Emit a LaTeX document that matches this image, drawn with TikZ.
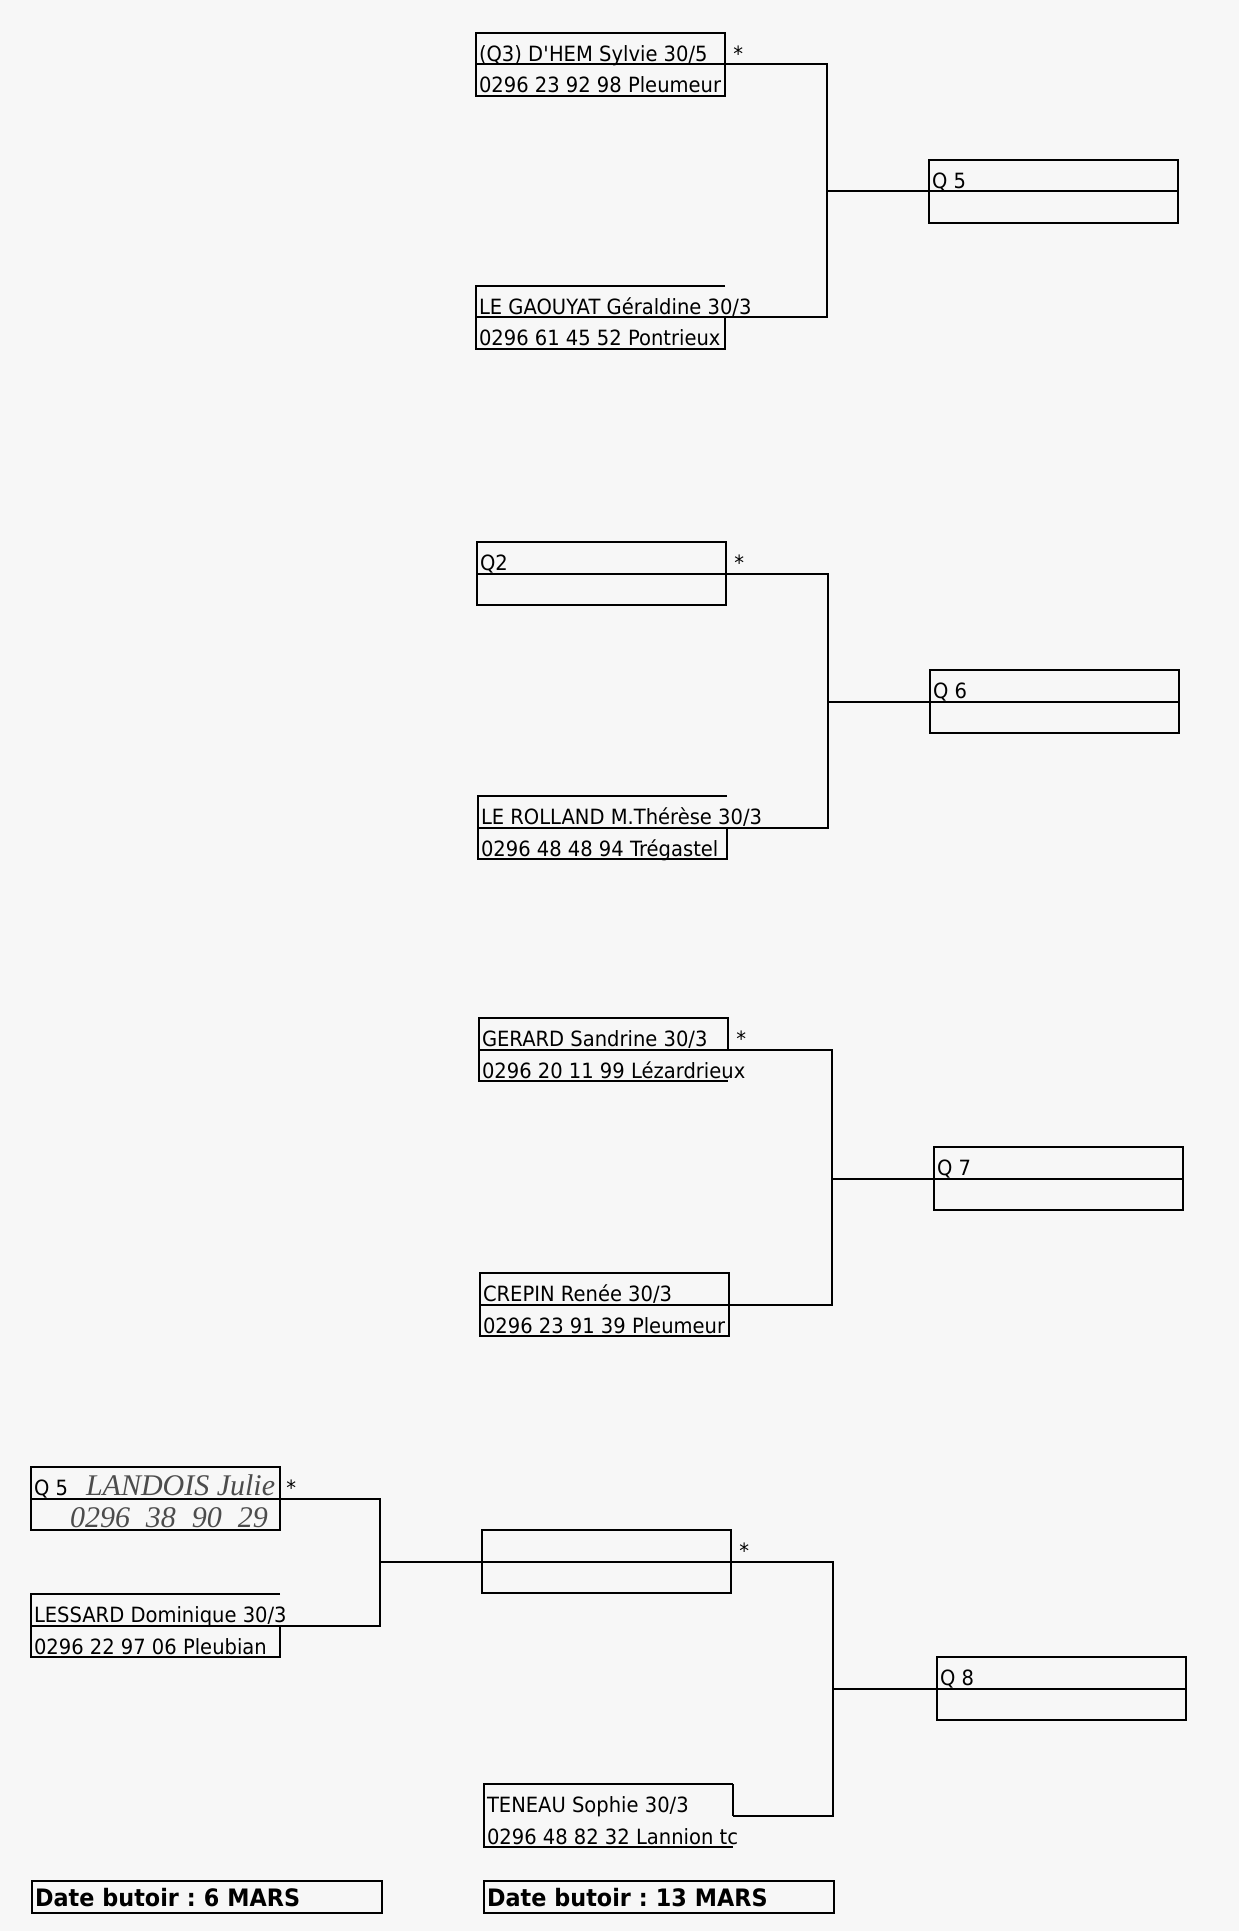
\documentclass[tikz,border=0pt]{standalone}
\usepackage{fontspec}
\setmainfont{DejaVu Sans}[FakeStretch=0.93]
\newfontfamily\handfont{Liberation Serif}
\usetikzlibrary{positioning}

\newcommand{\celltext}[1]{\makebox[121.5pt][l]{#1}}
\newcommand{\hand}[1]{{\handfont\itshape\fontsize{15}{16}\selectfont\color{black!70}#1}}

\tikzset{
  cell/.style={rectangle, draw, line width=1pt, minimum width=124.5pt,
    minimum height=15.75pt, inner xsep=1.5pt, inner ysep=0pt, outer sep=0pt,
    text height=14.25pt, text depth=1.5pt, anchor=north west,
    font=\fontsize{10.5}{12}\selectfont},
  opencell/.style={cell, draw=none},
  seedmark/.style={anchor=base west, inner sep=0pt, font=\fontsize{10.5}{12}\selectfont},
  link/.style={draw, line width=1pt},
  datebox/.style={cell, minimum width=175pt, minimum height=16pt,
    text width=172pt, align=left, text height=12.8pt, text depth=3.2pt,
    font=\fontsize{12}{14}\selectfont\bfseries}
}

\begin{document}
\frenchspacing
\begin{tikzpicture}[x=0.5pt, y=-0.5pt]
  \useasboundingbox[fill=black!3] (0,0) rectangle (1239,1931);

  \begin{scope}[every node/.style={cell}]
    % match 1
    \node (a1)  at (476,33) {\celltext{(Q3) D\textquotesingle{}HEM Sylvie 30/5}};
    \node (a1t) [below=0pt of a1] {\celltext{0296 23 92 98 Pleumeur}};
    \node[opencell] (b1) at (476,286) {\celltext{LE GAOUYAT Géraldine 30/3}};
    \node (b1t) [below=0pt of b1] {\celltext{0296 61 45 52 Pontrieux}};
    \node (q5)  at (929,160) {\celltext{Q 5}};
    \node (q5b) [below=0pt of q5] {\celltext{}};

    % match 2
    \node (a2)  at (477,542) {\celltext{Q2}};
    \node (a2t) [below=0pt of a2] {\celltext{}};
    \node[opencell] (b2) at (478,796) {\celltext{LE ROLLAND M.Thérèse 30/3}};
    \node (b2t) [below=0pt of b2] {\celltext{0296 48 48 94 Trégastel}};
    \node (q6)  at (930,670) {\celltext{Q 6}};
    \node (q6b) [below=0pt of q6] {\celltext{}};

    % match 3
    \node (a3)  at (479,1018) {\celltext{GERARD Sandrine 30/3}};
    \node[opencell] (a3t) [below=0pt of a3] {\celltext{0296 20 11 99 Lézardrieux}};
    \node (b3)  at (480,1273) {\celltext{CREPIN Renée 30/3}};
    \node (b3t) [below=0pt of b3] {\celltext{0296 23 91 39 Pleumeur}};
    \node (q7)  at (934,1147) {\celltext{Q 7}};
    \node (q7b) [below=0pt of q7] {\celltext{}};

    % match 4, first round
    \node (l1)  at (31,1467) {\celltext{Q 5\hspace{9pt}\hand{LANDOIS Julie}}};
    \node (l1t) [below=0pt of l1] {\celltext{\hspace{18pt}\hand{0296\hspace{8pt}38\hspace{8pt}90\hspace{8pt}29}}};
    \node[opencell] (l2) at (31,1594) {\celltext{LESSARD Dominique 30/3}};
    \node (l2t) [below=0pt of l2] {\celltext{0296 22 97 06 Pleubian}};

    % match 4
    \node (a4)  at (482,1530) {\celltext{}};
    \node (a4t) [below=0pt of a4] {\celltext{}};
    \node[opencell] (b4) at (484,1784) {\celltext{TENEAU Sophie 30/3}};
    \node[opencell] (b4t) [below=0pt of b4] {\celltext{0296 48 82 32 Lannion tc}};
    \node (q8)  at (937,1657) {\celltext{Q 8}};
    \node (q8b) [below=0pt of q8] {\celltext{}};
  \end{scope}

  % seeds
  \node[seedmark] (s1) at ([xshift=4pt]a1.base east) {*};
  \node[seedmark] (s2) at ([xshift=4pt]a2.base east) {*};
  \node[seedmark] (s3) at ([xshift=4pt]a3.base east) {*};
  \node[seedmark] (s4) at ([xshift=4pt]a4.base east) {*};
  \node[seedmark] (s5) at ([xshift=3pt]l1.base east) {*};

  % borders of cells the text runs over
  \draw[link] (b1.north east) -- (b1.north west) -- (b1.south west);
  \draw[link] (b2.north east) -- (b2.north west) -- (b2.south west);
  \draw[link] (a3t.north west) -- (a3t.south west) -- (a3t.south east);
  \draw[link] (l2.north east) -- (l2.north west) -- (l2.south west);
  \draw[link] (b4.north east) -- (b4.north west) -- (b4.south west);
  \draw[link] (b4t.north west) -- (b4t.south west) -- (b4t.south east);
  \draw[link] (b4.north east) -- (b4.south east);

  \path (q5.south west) ++(-102,0) coordinate (j1);
  \path (q6.south west) ++(-102,0) coordinate (j2);
  \path (q7.south west) ++(-102,0) coordinate (j3);
  \path (q8.south west) ++(-104,0) coordinate (j4);
  \path (a4.south west) ++(-102,0) coordinate (j5);

  \draw[link] (a1.south east) -| (j1) |- (b1.south east);
  \draw[link] (j1) -- (q5.south west);
  \draw[link] (a2.south east) -| (j2) |- (b2.south east);
  \draw[link] (j2) -- (q6.south west);
  \draw[link] (a3.south east) -| (j3) |- (b3.south east);
  \draw[link] (j3) -- (q7.south west);
  \draw[link] (l1.south east) -| (j5) |- (l2.south east);
  \draw[link] (j5) -- (a4.south west);
  \draw[link] (a4.south east) -| (j4) |- (b4.south east);
  \draw[link] (j4) -- (q8.south west);

  \node[datebox] (d1) at (32,1881) {Date butoir : 6 MARS};
  \node[datebox] (d2) at (484,1881) {Date butoir : 13 MARS};

\end{tikzpicture}
\end{document}
